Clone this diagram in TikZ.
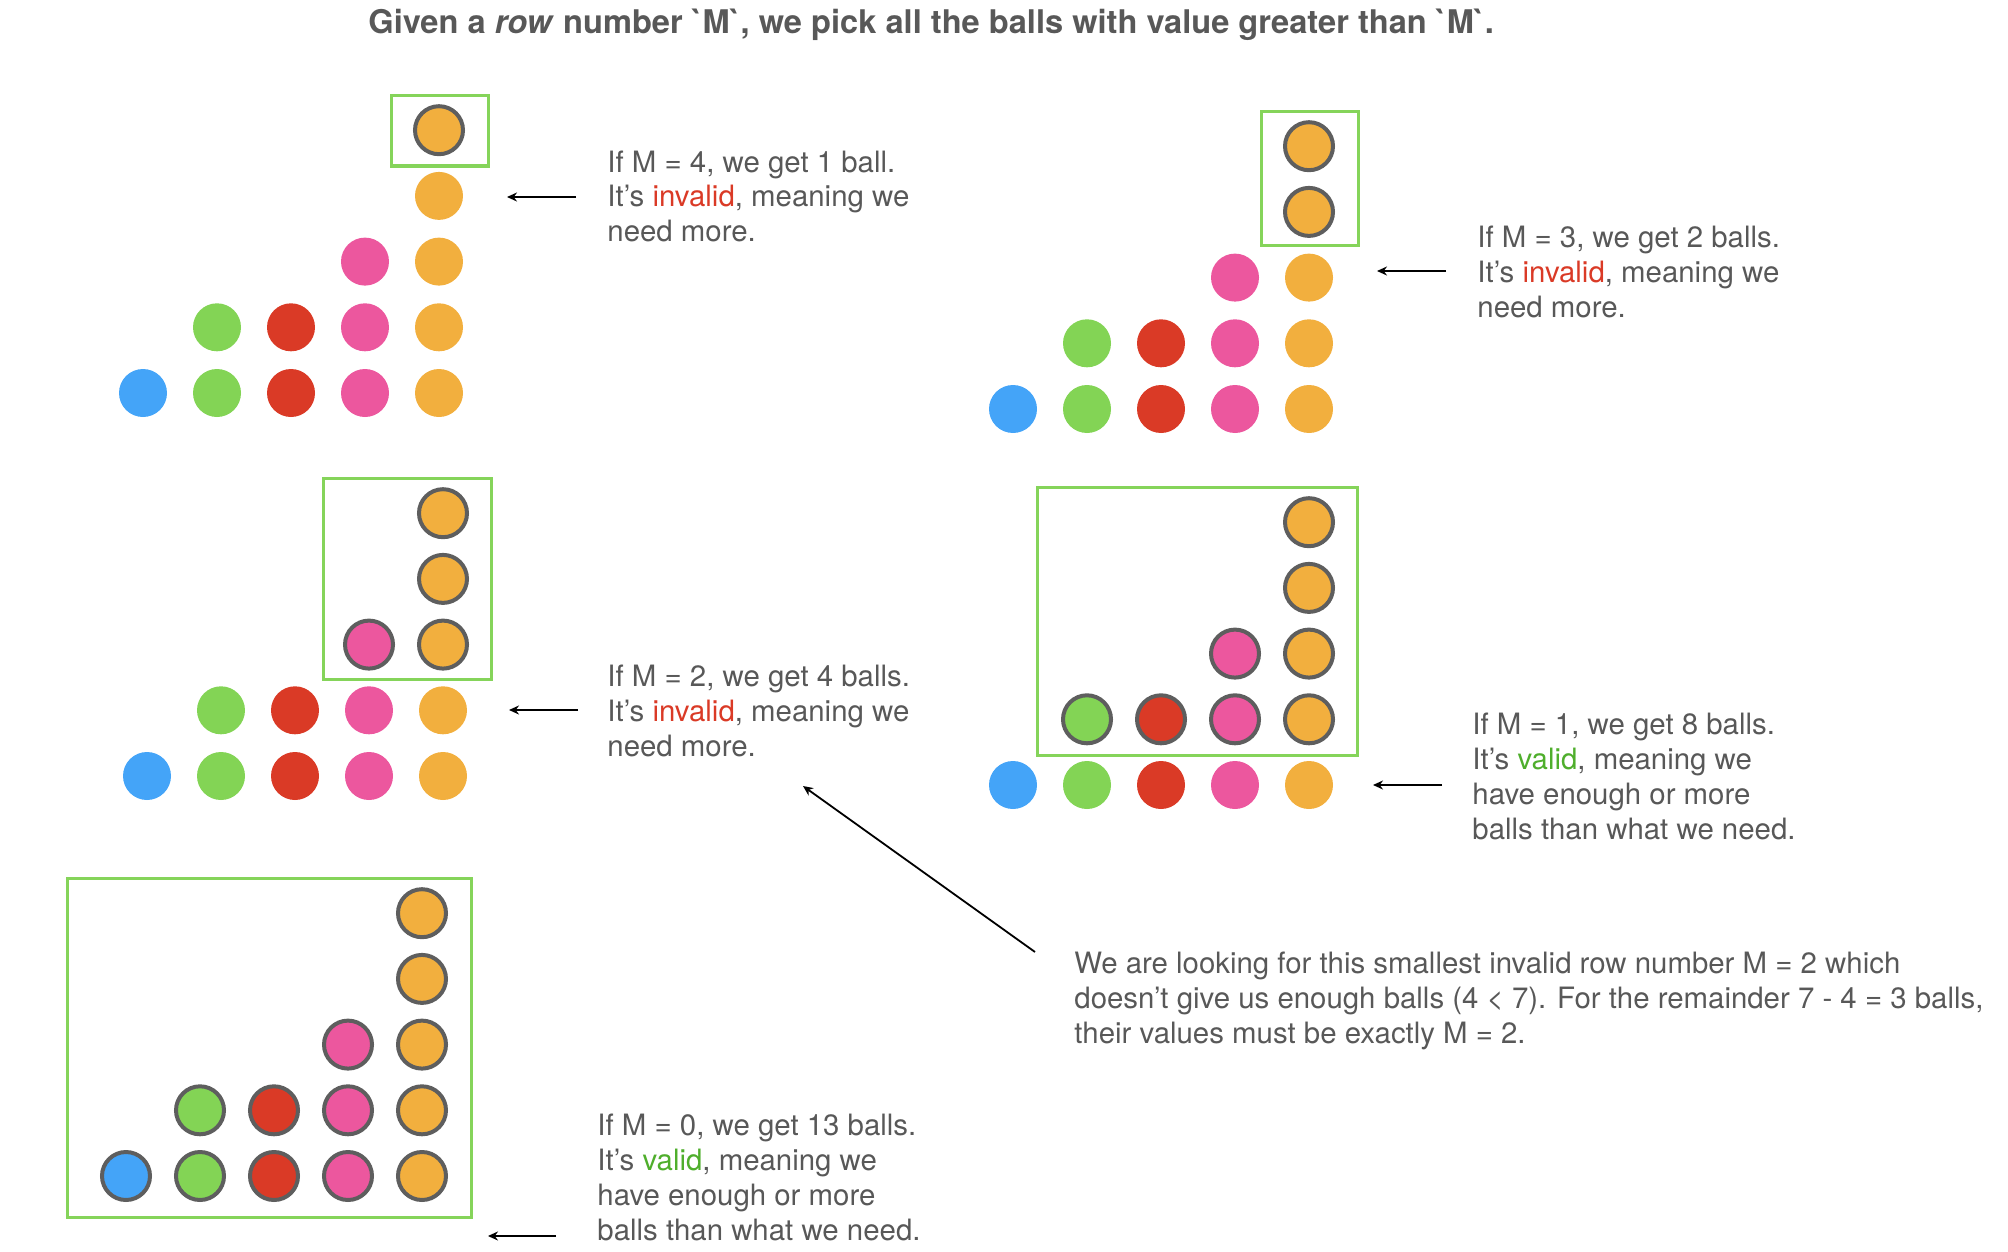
\documentclass[tikz,border=0pt]{standalone}
\usepackage{fontspec}
\setmainfont{TeX Gyre Heros}
\usetikzlibrary{arrows.meta}

\definecolor{ballblue}{HTML}{44A4F8}
\definecolor{ballgreen}{HTML}{83D455}
\definecolor{ballred}{HTML}{DA3A26}
\definecolor{ballpink}{HTML}{EC579E}
\definecolor{ballorange}{HTML}{F2AF3E}
\definecolor{ballrim}{HTML}{5E5E5E}
\definecolor{boxgreen}{HTML}{85D45A}
\definecolor{textgray}{HTML}{585858}
\definecolor{badred}{HTML}{DA3A26}
\definecolor{goodgreen}{HTML}{4FAE2C}

% one heap of 13 balls: name, x of first column, y of bottom row, M
\newcommand{\ballheap}[4]{%
  \foreach \c/\r/\col in {1/1/ballblue, 2/1/ballgreen, 2/2/ballgreen,
      3/1/ballred, 3/2/ballred, 4/1/ballpink, 4/2/ballpink, 4/3/ballpink,
      5/1/ballorange, 5/2/ballorange, 5/3/ballorange, 5/4/ballorange, 5/5/ballorange}{
    \ifnum\r>#4\relax
      \node (#1c\c r\r) [ball, picked, fill=\col] at ({#2+(\c-1)*74}, {#3-(\r-1)*65.7}) {};
    \else
      \node (#1c\c r\r) [ball, fill=\col] at ({#2+(\c-1)*74}, {#3-(\r-1)*65.7}) {};
    \fi
  }%
}

\begin{document}
\begin{tikzpicture}[x=0.5pt, y=-0.5pt, text=textgray,
    font=\fontsize{14.7pt}{17.5pt}\selectfont,
    ball/.style={circle, minimum size=24pt, inner sep=0pt},
    picked/.style={draw=ballrim, line width=2pt},
    pickbox/.style={draw=boxgreen, line width=1.5pt},
    pointer/.style={-{Stealth[length=5pt, width=4.5pt]}, line width=0.9pt, black},
    caption/.style={anchor=base west, align=left, inner sep=0pt}]
  \useasboundingbox (0,0) rectangle (2008,1252);

  \node (title) [anchor=base west, inner sep=0pt, font=\fontsize{16.3pt}{19pt}\selectfont\bfseries]
    at (368,34) {Given a \textit{row} number \textasciigrave M\textasciigrave, we pick all the balls with value greater than \textasciigrave M\textasciigrave.};

  % M = 4
  \ballheap{m4}{143}{393}{4}
  \draw[pickbox] (391,96) rectangle (488,166);
  \node (t4) [caption] at (607,242) {If M = 4, we get 1 ball.\\It’s \textcolor{badred}{invalid}, meaning we\\need more.};
  \coordinate (a4) at (576,197);
  \coordinate (b4) at (507,197);
  \draw[pointer] (a4) -- (b4);

  % M = 3
  \ballheap{m3}{1013}{409}{3}
  \draw[pickbox] (1261,112) rectangle (1358,245);
  \node (t3) [caption] at (1477,317) {If M = 3, we get 2 balls.\\It’s \textcolor{badred}{invalid}, meaning we\\need more.};
  \coordinate (a3) at (1446,271);
  \coordinate (b3) at (1377,271);
  \draw[pointer] (a3) -- (b3);

  % M = 2
  \ballheap{m2}{147}{776}{2}
  \draw[pickbox] (323,478) rectangle (491,679);
  \node (t2) [caption] at (607,756) {If M = 2, we get 4 balls.\\It’s \textcolor{badred}{invalid}, meaning we\\need more.};
  \coordinate (a2) at (578,710);
  \coordinate (b2) at (509,710);
  \draw[pointer] (a2) -- (b2);

  % M = 1
  \ballheap{m1}{1013}{785}{1}
  \draw[pickbox] (1037,487) rectangle (1357,755);
  \node (t1) [caption] at (1472,839) {If M = 1, we get 8 balls.\\It’s \textcolor{goodgreen}{valid}, meaning we\\have enough or more\\balls than what we need.};
  \coordinate (a1) at (1442,785);
  \coordinate (b1) at (1373,785);
  \draw[pointer] (a1) -- (b1);

  % M = 0
  \ballheap{m0}{126}{1176}{0}
  \draw[pickbox] (67,878) rectangle (471,1217);
  \node (t0) [caption] at (597,1240) {If M = 0, we get 13 balls.\\It’s \textcolor{goodgreen}{valid}, meaning we\\have enough or more\\balls than what we need.};
  \coordinate (a0) at (556,1236);
  \coordinate (b0) at (488,1236);
  \draw[pointer] (a0) -- (b0);

  % the answer
  \node (note) [caption] at (1074,1043) {We are looking for this smallest invalid row number M = 2 which\\doesn’t give us enough balls (4 < 7). For the remainder 7 - 4 = 3 balls,\\their values must be exactly M = 2.};
  \coordinate (an) at (1035,952);
  \coordinate (bn) at (803,786);
  \draw[pointer] (an) -- (bn);
\end{tikzpicture}
\end{document}
